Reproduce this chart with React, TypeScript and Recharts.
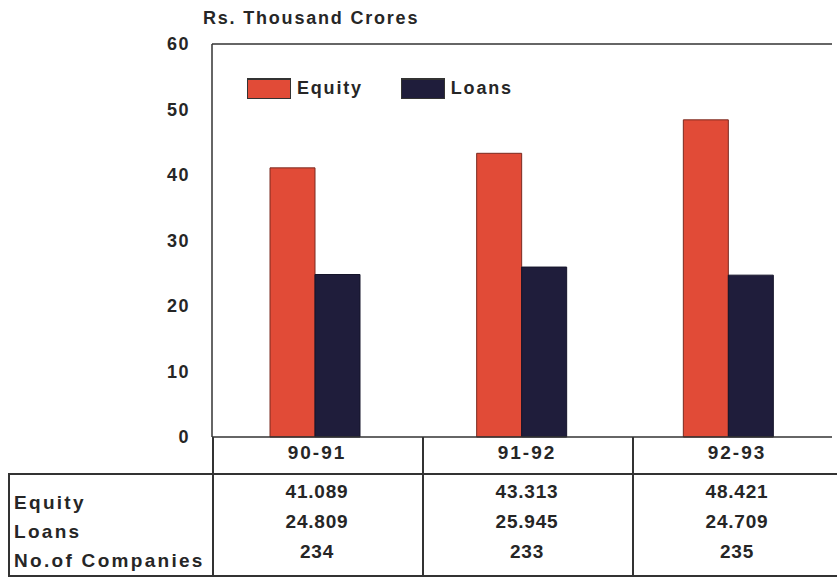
import React from "react";
import { BarChart, Bar, XAxis, YAxis, ReferenceLine } from "recharts";

const years = ["90-91", "91-92", "92-93"];
const equity = [41.089, 43.313, 48.421];
const loans = [24.809, 25.945, 24.709];
const companies = [234, 233, 235];
const yTicks = [0, 10, 20, 30, 40, 50, 60];

const RED = "#e14b37";
const NAVY = "#1f1d3b";
const INK = "#262626";
const FONT = "'Liberation Sans', Arial, sans-serif";

const chartData = years.map((y, i) => ({
  year: y,
  equity: equity[i],
  loans: loans[i],
}));

const tableRows = [
  { label: "Equity", values: equity.map((v) => v.toFixed(3)) },
  { label: "Loans", values: loans.map((v) => v.toFixed(3)) },
  { label: "No.of Companies", values: companies.map(String) },
];

// table geometry
const TABLE_LEFT = 212;
const COL_W = 210;

const tickStyle = {
  fill: INK,
  fontSize: 18,
  fontFamily: FONT,
  fontWeight: 600,
  letterSpacing: 1.5,
};

function LegendBox() {
  const item = (color: string, text: string, gap: number) => (
    <div style={{ display: "flex", alignItems: "center", marginRight: gap }}>
      <div
        style={{
          width: 42,
          height: 18,
          background: color,
          border: "1px solid #333",
          borderTopWidth: 2,
          marginRight: 6,
        }}
      />
      <span style={{ fontSize: 18, fontWeight: 600, letterSpacing: 1.8, color: INK }}>
        {text}
      </span>
    </div>
  );
  return (
    <div style={{ display: "flex", fontFamily: FONT }}>
      {item(RED, "Equity", 38)}
      {item(NAVY, "Loans", 0)}
    </div>
  );
}

function Line(props: { x: number; y: number; w: number; h: number }) {
  return (
    <div
      style={{
        position: "absolute",
        left: props.x,
        top: props.y,
        width: props.w,
        height: props.h,
        background: "#333",
      }}
    />
  );
}

export default function App() {
  const text: React.CSSProperties = {
    position: "absolute",
    fontFamily: FONT,
    fontSize: 19,
    fontWeight: 600,
    letterSpacing: 2.3,
    color: INK,
    lineHeight: "22px",
    whiteSpace: "nowrap",
  };
  const cell = (c: number): React.CSSProperties => ({
    ...text,
    left: TABLE_LEFT + c * COL_W,
    width: COL_W,
    textAlign: "center",
  });
  return (
    <div
      style={{
        position: "absolute",
        left: 0,
        top: 0,
        width: 837,
        height: 581,
        overflow: "hidden",
        background: "#fff",
      }}
    >
      <div style={{ ...text, left: 203, top: 7, fontSize: 18, letterSpacing: 1.8 }}>
        Rs. Thousand Crores
      </div>
      <BarChart
        width={837}
        height={581}
        data={chartData}
        margin={{ top: 44, right: 5, left: 172, bottom: 111 }}
        barGap={0}
        barSize={45}
      >
        <YAxis
          width={40}
          domain={[0, 60]}
          ticks={yTicks}
          tickLine={false}
          tickSize={0}
          tickMargin={22}
          axisLine={{ stroke: "#333", strokeWidth: 1.5 }}
          tick={tickStyle}
        />
        <YAxis
          yAxisId="right"
          orientation="right"
          width={0}
          tick={false}
          tickLine={false}
          axisLine={{ stroke: "#333", strokeWidth: 1.5 }}
        />
        <XAxis
          dataKey="year"
          height={33}
          tick={false}
          tickLine={false}
          axisLine={{ stroke: "#333", strokeWidth: 1.5 }}
        />
        <ReferenceLine y={60} stroke="#333" strokeWidth={1.5} />
        <Bar
          dataKey="equity"
          name="Equity"
          fill={RED}
          stroke="#7a2a20"
          strokeWidth={1}
          isAnimationActive={false}
        />
        <Bar
          dataKey="loans"
          name="Loans"
          fill={NAVY}
          stroke="#15142a"
          strokeWidth={1}
          isAnimationActive={false}
        />
      </BarChart>

      <div style={{ position: "absolute", left: 247, top: 78 }}>
        <LegendBox />
      </div>

      {/* data table under the axis */}
      <Line x={8} y={473} w={829} h={1.5} />
      <Line x={8} y={575} w={829} h={1.5} />
      <Line x={8} y={473} w={1.5} h={103} />
      {[0, 1, 2].map((i) => (
        <Line key={i} x={TABLE_LEFT + i * COL_W} y={437} w={1.5} h={139} />
      ))}
      {years.map((y, c) => (
        <div key={y} style={{ ...cell(c), top: 442, letterSpacing: 2 }}>
          {y}
        </div>
      ))}
      {tableRows.map((row, r) => (
        <div key={row.label} style={{ ...text, left: 14, top: 492 + r * 29 }}>
          {row.label}
        </div>
      ))}
      {tableRows.map((row, r) =>
        row.values.map((v, c) => (
          <div
            key={row.label + c}
            style={{ ...cell(c), top: 481 + r * 30, letterSpacing: 0.8 }}
          >
            {v}
          </div>
        ))
      )}
    </div>
  );
}
